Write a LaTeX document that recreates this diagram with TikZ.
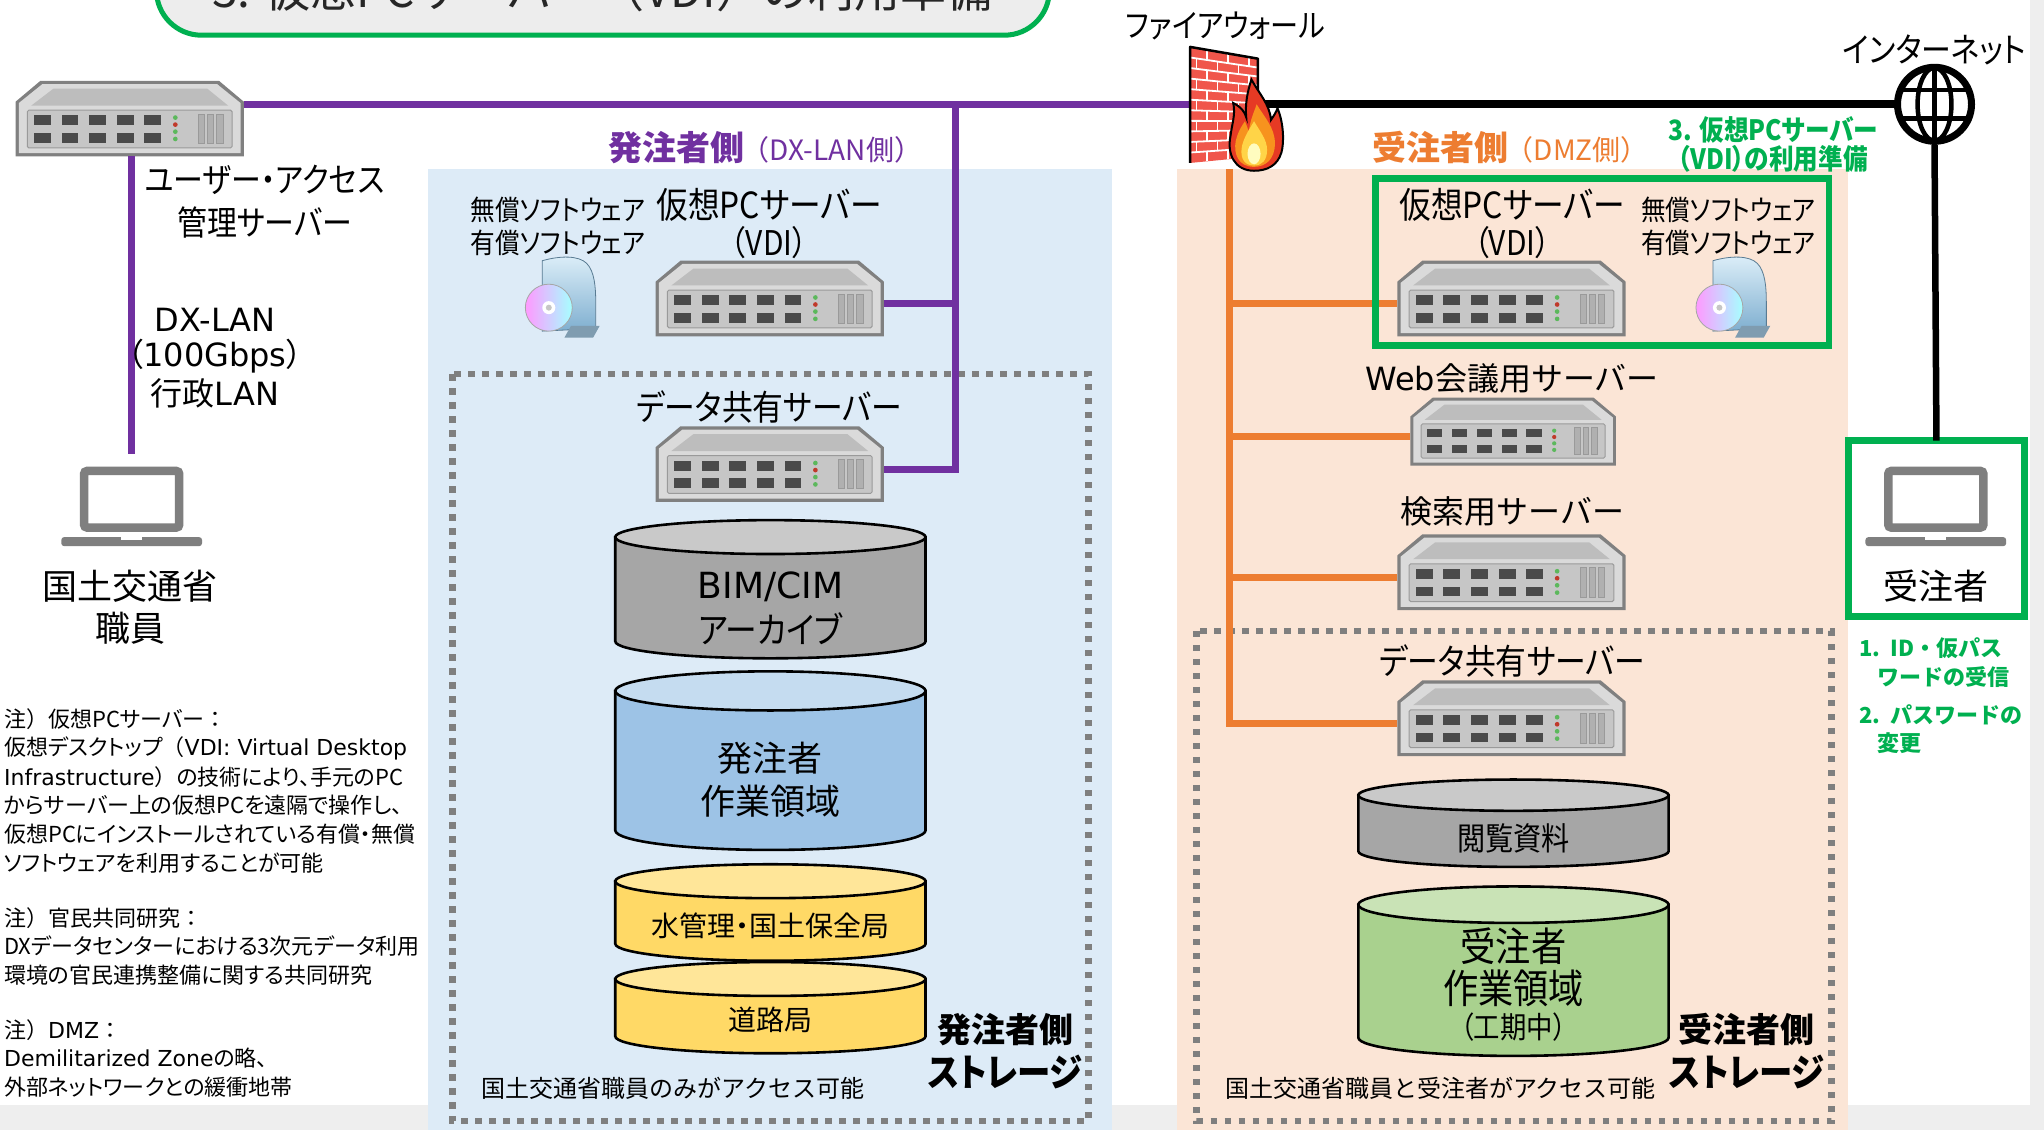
\documentclass[tikz,border=0pt]{standalone}
\usepackage{fontspec}
\setmainfont{Noto Sans CJK JP}
\newfontfamily\jp{Noto Sans CJK JP}
\newfontfamily\jpc{Noto Sans CJK JP}[FakeStretch=0.88,RawFeature=+palt]
\newfontfamily\jpn{Noto Sans CJK JP}[RawFeature=+palt]
\newfontfamily\lat{DejaVu Sans}
\newcommand\fsz[1]{\fontsize{#1}{#1}\selectfont}

\definecolor{dxpurple}{HTML}{7030A0}
\definecolor{dmzorange}{HTML}{ED7D31}
\definecolor{prepgreen}{HTML}{00B050}
\definecolor{bluezone}{HTML}{DDEBF7}
\definecolor{orangezone}{HTML}{FBE5D6}
\definecolor{dotgray}{HTML}{7F7F7F}
\definecolor{titlefill}{HTML}{EDEDED}
\definecolor{edgegray}{HTML}{EEEEEE}
\definecolor{srvedge}{HTML}{808080}
\definecolor{srvface}{HTML}{DADADA}
\definecolor{srvtop}{HTML}{BDBDBD}
\definecolor{srvpanel}{HTML}{C6C6C6}
\definecolor{srvline}{HTML}{9A9A9A}
\definecolor{srvport}{HTML}{4A4A4A}
\definecolor{ledgreen}{HTML}{5CB85C}
\definecolor{ledred}{HTML}{C0392B}
\definecolor{srvvent}{HTML}{B0B0B0}
\definecolor{lapgray}{HTML}{7F7F7F}
\definecolor{cylgray}{HTML}{A6A6A6}
\definecolor{cylgraytop}{HTML}{C9C9C9}
\definecolor{cylblue}{HTML}{9DC3E6}
\definecolor{cylbluetop}{HTML}{C5DCF0}
\definecolor{cylyellow}{HTML}{FFD966}
\definecolor{cylyellowtop}{HTML}{FFE699}
\definecolor{cylgreen}{HTML}{A9D18E}
\definecolor{cylgreentop}{HTML}{C9E3B6}
\definecolor{brick}{HTML}{F0564B}
\definecolor{flameout}{HTML}{E63A24}
\definecolor{flamemid}{HTML}{F7931E}
\definecolor{flamein}{HTML}{FFD447}
\definecolor{swlight}{HTML}{DCEEF8}
\definecolor{swdark}{HTML}{7FAFD0}

% storage cylinder: centre x, top y, bottom y, body, lid, x radius, y radius
\newcommand\storecyl[7]{%
  \filldraw[fill=#4, draw=black, line width=2.6pt]
    (#1-#6,#2) -- (#1-#6,#3) arc[start angle=180, end angle=0, x radius=#6, y radius=#7]
    -- (#1+#6,#2) -- cycle;
  \filldraw[fill=#5, draw=black, line width=2.6pt] (#1,#2) ellipse [x radius=#6, y radius=#7];
}

\tikzset{
  pics/server/.style={code={
    \fill[srvedge] (19,0) -- (156,0) -- (175,16) -- (175,58) -- (0,58) -- (0,16) -- cycle;
    \fill[srvface] (20.5,2.5) -- (154.5,2.5) -- (172.5,17) -- (172.5,55.5) -- (2.5,55.5) -- (2.5,17) -- cycle;
    \fill[srvtop] (29,6) -- (147,6) -- (163,19) -- (12,19) -- cycle;
    \filldraw[fill=srvpanel, draw=srvline, line width=1pt, rounded corners=1.5pt] (9,22.5) rectangle (166,51.5);
    \foreach \i in {0,...,4} {
      \fill[srvport] ({14+21.2*\i},26.5) rectangle ++(13,7.5);
      \fill[srvport] ({14+21.2*\i},40) rectangle ++(13,7.5);
    }
    \fill[ledgreen] (122.5,28.2) circle (1.8);
    \fill[ledred] (122.5,33.6) circle (1.8);
    \fill[ledgreen] (122.5,39) circle (1.8);
    \fill[ledgreen] (122.5,44.6) circle (1.8);
    \foreach \v in {140,147,154}
      \filldraw[fill=srvvent, draw=srvline, line width=0.8pt] (\v,25.5) rectangle ++(5,22.5);
    \coordinate (-ne) at (175,18);
    \coordinate (-e) at (175,33);
    \coordinate (-w) at (0,33);
    \coordinate (-s) at (89,58);
  }},
  pics/laptop/.style={code={
    \filldraw[draw=lapgray, fill=white, line width=8.5pt, rounded corners=3pt] (-36.5,3.3) rectangle (36.5,46.7);
    \fill[lapgray, rounded corners=3pt] (-54,54) rectangle (54,61);
    \fill[white] (-8,54) rectangle (8,56);
    \coordinate (-n) at (0,-10);
  }},
  pics/software/.style={code={
    \shadedraw[top color=swlight, bottom color=swdark, draw=swdark!70!black, line width=0.8pt]
      (16,4) .. controls (30,0) and (44,0) .. (50,6) .. controls (56,12) and (57,24) .. (57,36)
      -- (57,56) -- (16,58) -- cycle;
    \fill[swdark!60!gray] (38,54) -- (60,54) -- (55,63) -- (33,63) -- cycle;
    \shadedraw[left color=magenta!40, middle color=yellow!45, right color=cyan!35, draw=gray!70, line width=0.8pt]
      (21,40) circle (18);
    \fill[white] (21,40) circle (5);
    \fill[gray!45] (21,40) circle (2.3);
  }},
  dxline/.style={draw=dxpurple, line width=6.5pt},
  dmzline/.style={draw=dmzorange, line width=6.5pt},
  netline/.style={draw=black, line width=8pt},
  dotbox/.style={draw=dotgray, line width=6.5pt, dash pattern=on 6.5pt off 7.5pt},
  prepbox/.style={draw=prepgreen, line width=6.5pt},
}

\begin{document}
\begin{tikzpicture}[x=1.3036pt, y=-1.3036pt, every node/.style={inner sep=0pt}]
\useasboundingbox (0,0) rectangle (1568,867);
\clip (0,0) rectangle (1568,867);

% page and zones
\fill[white] (0,0) rectangle (1568,867);
\fill[edgegray] (0,848) rectangle (1568,867);
\fill[edgegray] (1557,0) rectangle (1568,867);
\fill[bluezone] (328,130) rectangle (853,867);
\fill[orangezone] (903,130) rectangle (1418,867);

% title plate
\draw[draw=prepgreen, fill=titlefill, line width=5pt, rounded corners=45pt] (120,-90) rectangle (805,27);
\node[text=black!85] (title) at (462,-8) {\fsz{46}\jp 3. 仮想PCサーバー（VDI）の利用準備};

% storage areas
\draw[dotbox] (347,287) rectangle (835,860);
\draw[dotbox] (918,484) rectangle (1405,860);

% firewall anchor points and junctions
\coordinate (fw-w) at (913,80);
\coordinate (fw-e) at (965,80);
\coordinate (fw-s) at (943,130);
\coordinate (dxj) at (733,80);
\coordinate (vend-n) at (1485.5,338);

% internet globe
\node[circle, draw=black, line width=7pt, minimum size=74pt] (globe) at (1484,80) {};
\draw[line width=4.5pt] (globe.north) -- (globe.south);
\draw[line width=4.5pt] (1484,80) ellipse [x radius=13, y radius=28];
\draw[line width=4.5pt] (1458.3,69) -- (1509.7,69);
\draw[line width=4.5pt] (1458.3,91) -- (1509.7,91);

% vendor terminal frame
\draw[prepbox, line width=7pt, fill=white] (1418,338) rectangle (1553,473);

% servers
\pic (ua) at (12,62) {server};
\pic (vdiA) at (503,200) {server};
\pic (dsA) at (503,327) {server};
\pic (vdiB) at (1072,200) {server};
\pic[scale=0.9] (web) at (1082,305) {server};
\pic (srch) at (1072,410) {server};
\pic (dsB) at (1072,522) {server};

% terminals
\pic (lapA) at (101,358) {laptop};
\pic (lapB) at (1485,358) {laptop};

% connections
\draw[dxline] (ua-ne) -- (fw-w);
\draw[dxline] (ua-s) -- (lapA-n);
\draw[dxline] (dxj) |- (vdiA-e);
\draw[dxline] (dxj) |- (dsA-e);
\draw[dmzline] (fw-s) |- (dsB-w);
\draw[dmzline] (fw-s) |- (vdiB-w);
\draw[dmzline] (fw-s) |- (web-w);
\draw[dmzline] (fw-s) |- (srch-w);
\draw[netline] (fw-e) -- (globe.west);
\draw[netline, line width=6.5pt] (globe.south) -- (vend-n);

% software packages
\pic at (400,196) {software};
\pic at (1298,196) {software};

% preparation frame around the vendor-side VDI
\draw[prepbox] (1055,137) rectangle (1403,265);

% firewall: brick wall with flame
\begin{scope}
  \clip (913,36) -- (965,45) -- (965,120) -- (913,125) -- cycle;
  \fill[brick] (900,30) rectangle (970,130);
  \foreach \k in {1,...,10}
    \draw[white, line width=1.8pt] (913,{36+\k*8.1}) -- (965,{45+\k*6.85});
  \foreach \k in {0,...,10} {
    \foreach \xx in {926,942,958} {
      \pgfmathsetmacro{\xa}{\xx-(mod(\k,2)==0 ? 0 : 8)}
      \pgfmathsetmacro{\ta}{36+\k*8.1+(9-\k*1.25)*(\xa-913)/52}
      \draw[white, line width=1.5pt] (\xa,\ta) -- (\xa,\ta+7.5);
    }
  }
\end{scope}
\draw[black, line width=2.5pt, line join=round] (913,125) -- (913,36) -- (965,45) -- (965,120);
\filldraw[fill=flameout, draw=black, line width=2pt]
  (962,131) .. controls (947,131) and (941,118) .. (944,104)
  .. controls (945,95) and (948,88) .. (946,79)
  .. controls (952,82) and (955,86) .. (956,90)
  .. controls (955,80) and (957,70) .. (960,61)
  .. controls (966,72) and (974,80) .. (975,92)
  .. controls (977,89) and (979,86) .. (980,83)
  .. controls (985,95) and (985,110) .. (983,117)
  .. controls (980,127) and (972,131) .. (962,131) -- cycle;
\fill[flamemid]
  (962,128) .. controls (950,128) and (946,118) .. (948,108)
  .. controls (950,100) and (953,96) .. (955,93)
  .. controls (957,98) .. (958,101)
  .. controls (959,92) and (962,86) .. (964,80)
  .. controls (970,90) and (978,98) .. (978,110)
  .. controls (978,122) and (971,128) .. (962,128) -- cycle;
\fill[flamein]
  (962,127) .. controls (953,127) and (951,119) .. (953,111)
  .. controls (955,104) and (959,98) .. (962,93)
  .. controls (966,100) and (972,107) .. (972,115)
  .. controls (972,123) and (968,127) .. (962,127) -- cycle;
\fill[yellow!25] (962,118) ellipse [x radius=5, y radius=8];

% storage cylinders, ordering side
\storecyl{591}{412}{492}{cylgray}{cylgraytop}{119}{13}
\storecyl{591}{530}{637}{cylblue}{cylbluetop}{119}{15}
\storecyl{591}{676}{724}{cylyellow}{cylyellowtop}{119}{13}
\storecyl{591}{751}{795}{cylyellow}{cylyellowtop}{119}{13}
% storage cylinders, vendor side
\storecyl{1161}{610}{653}{cylgray}{cylgraytop}{119}{12}
\storecyl{1161}{694}{796}{cylgreen}{cylgreentop}{119}{14}

% labels: network and terminals
\node (fwlbl) at (940,20) {\fsz{32}\jpc ファイアウォール};
\node (netlbl) at (1484,38) {\fsz{34}\jpc インターネット};
\node (uaA) at (203,138) {\fsz{34}\jpc ユーザー・アクセス};
\node (uaB) at (203,171) {\fsz{34}\jpc 管理サーバー};
\node (lanA) at (165,245) {\fsz{32}\lat DX-LAN};
\node (lanB) at (165,273) {\fsz{32}\jpn（\lat 100Gbps\jpn）};
\node (lanC) at (165,302) {\fsz{32}\jp 行政\lat LAN};
\node (staffA) at (100,450) {\fsz{35}\jp 国土交通省};
\node (staffB) at (100,482) {\fsz{35}\jp 職員};
\node (venLbl) at (1485,450) {\fsz{35}\jp 受注者};

% notes
\foreach \yy/\ntext [count=\k] in {
  552/{注\jp）\jpn 仮想PCサーバー\jp：},
  574/{仮想デスクトップ\jp（\lat VDI: Virtual Desktop},
  596/{\lat Infrastructure\jp）\jpn の技術により、手元のPC},
  618/{からサーバー上の仮想PCを遠隔で操作し、},
  640/{仮想PCにインストールされている有償・無償},
  662/{ソフトウェアを利用することが可能},
  704/{注\jp）\jpn 官民共同研究\jp：},
  726/{DXデータセンターにおける3次元データ利用},
  748/{環境の官民連携整備に関する共同研究},
  790/{注\jp）\lat DMZ\jp：},
  812/{\lat Demilitarized Zone\jpn の略、},
  834/{外部ネットワークとの緩衝地帯}}
  \node[anchor=west] (note\k) at (3,\yy) {\fsz{22}\jpn\ntext};

% labels: ordering side
\node[anchor=east, text=dxpurple] (hdA) at (571,113) {\fsz{34}\jp\bfseries 発注者側};
\node[anchor=west, text=dxpurple] (hdAsub) at (569,115) {\fsz{28}\jp（DX-LAN側）};
\node (swA1) at (428,161) {\fsz{28}\jpc 無償ソフトウェア};
\node (swA2) at (428,186) {\fsz{28}\jpc 有償ソフトウェア};
\node (vdiAt1) at (590,157) {\fsz{36}\jpc 仮想PCサーバー};
\node (vdiAt2) at (590,186) {\fsz{34}\jpc（VDI）};
\node (dsAt) at (590,312) {\fsz{35}\jpc データ共有サーバー};
\node (bimA) at (591,450) {\fsz{36}\lat BIM/CIM};
\node (bimB) at (591,482) {\fsz{36}\jpc アーカイブ};
\node (ordA) at (591,582) {\fsz{35}\jp 発注者};
\node (ordB) at (591,615) {\fsz{35}\jp 作業領域};
\node (riv) at (591,710) {\fsz{28}\jpn 水管理・国土保全局};
\node (road) at (591,782) {\fsz{28}\jp 道路局};
\node (stoA1) at (771,790) {\fsz{34}\jp\bfseries 発注者側};
\node (stoA2) at (771,822) {\fsz{38}\jpc\bfseries ストレージ};
\node (accA) at (516,835) {\fsz{24}\jp 国土交通省職員のみがアクセス可能};

% labels: vendor side
\node[anchor=east, text=dmzorange] (hdB) at (1157,113) {\fsz{34}\jp\bfseries 受注者側};
\node[anchor=west, text=dmzorange] (hdBsub) at (1155,115) {\fsz{28}\jp（DMZ側）};
\node[text=prepgreen] (step3a) at (1360,100) {\fsz{28}\jpc\bfseries 3. 仮想PCサーバー};
\node[text=prepgreen] (step3b) at (1360,122) {\fsz{28}\jpc\bfseries （VDI）の利用準備};
\node (vdiBt1) at (1160,157) {\fsz{36}\jpc 仮想PCサーバー};
\node (vdiBt2) at (1160,186) {\fsz{34}\jpc（VDI）};
\node (swB1) at (1326,161) {\fsz{28}\jpc 無償ソフトウェア};
\node (swB2) at (1326,186) {\fsz{28}\jpc 有償ソフトウェア};
\node (webt) at (1160,290) {\fsz{32}\lat Web\jp 会議用サーバー};
\node (srcht) at (1160,392) {\fsz{32}\jp 検索用サーバー};
\node (dsBt) at (1160,507) {\fsz{35}\jpc データ共有サーバー};
\node (viewt) at (1161,643) {\fsz{32}\jpc 閲覧資料};
\node (venA) at (1161,726) {\fsz{40}\jpc 受注者};
\node (venB) at (1161,758) {\fsz{40}\jpc 作業領域};
\node (venC) at (1161,788) {\fsz{30}\jpc（工期中）};
\node (stoB1) at (1340,790) {\fsz{34}\jp\bfseries 受注者側};
\node (stoB2) at (1340,822) {\fsz{38}\jpc\bfseries ストレージ};
\node (accB) at (1105,835) {\fsz{24}\jp 国土交通省職員と受注者がアクセス可能};

% vendor steps
\node[anchor=west, text=prepgreen] (step1a) at (1426,497) {\fsz{22}\jp\bfseries 1.\ \ ID・仮パス};
\node[anchor=west, text=prepgreen] (step1b) at (1440,519) {\fsz{22}\jp\bfseries ワードの受信};
\node[anchor=west, text=prepgreen] (step2a) at (1426,548) {\fsz{22}\jp\bfseries 2.\ \ パスワードの};
\node[anchor=west, text=prepgreen] (step2b) at (1440,570) {\fsz{22}\jp\bfseries 変更};
\end{tikzpicture}
\end{document}
